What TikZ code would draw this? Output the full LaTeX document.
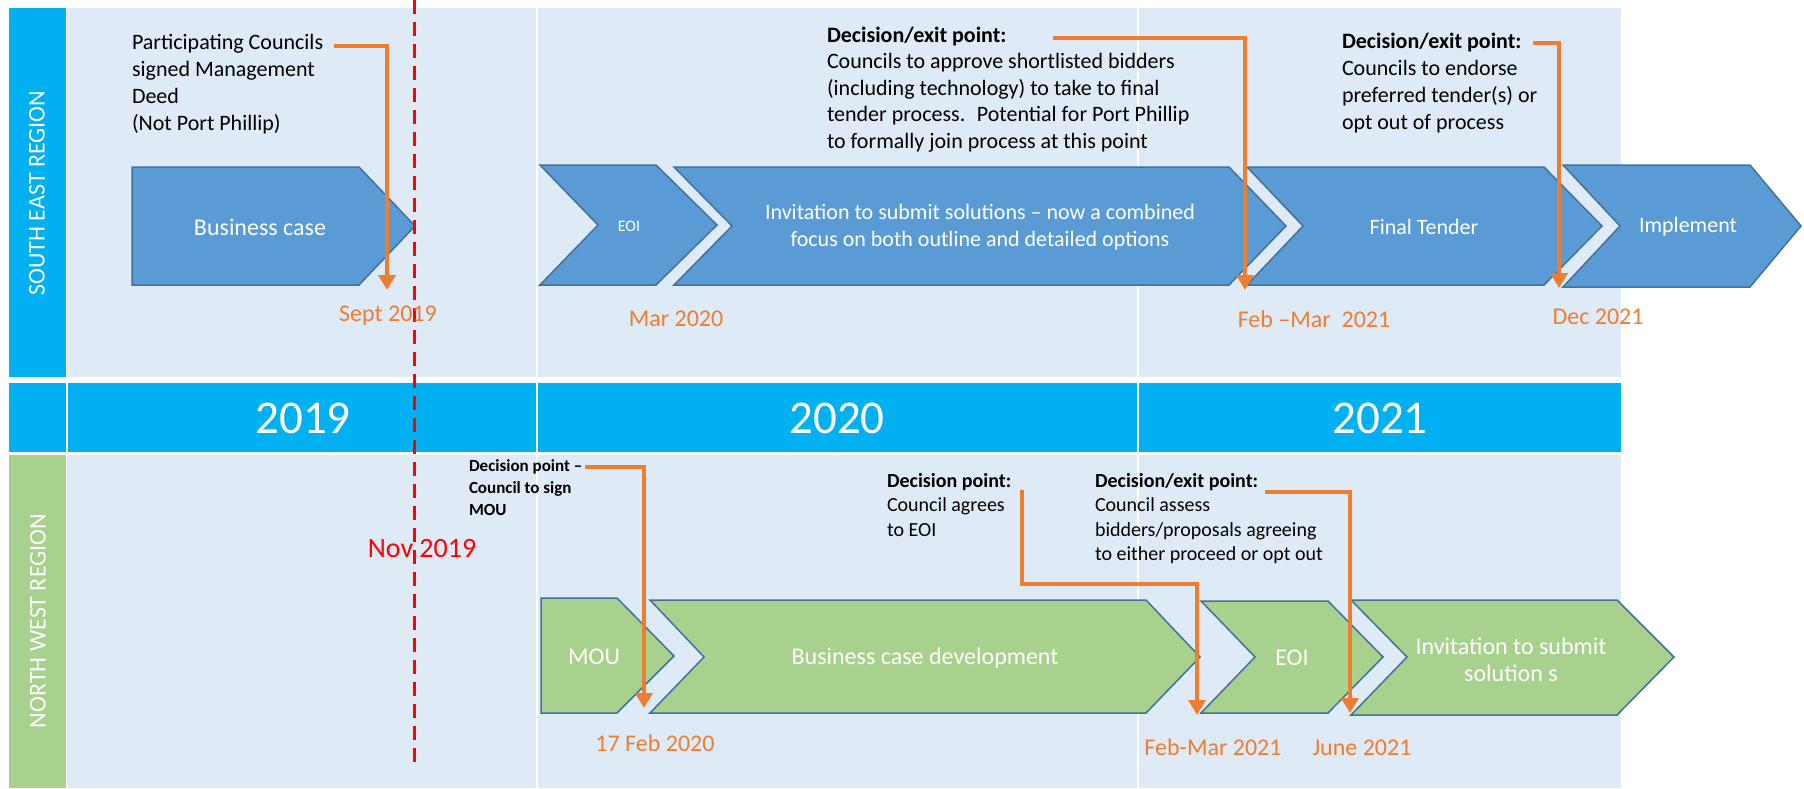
\documentclass[tikz,border=0pt]{standalone}
\usepackage{fontspec}
\setmainfont{Carlito}
\usetikzlibrary{arrows.meta}
\definecolor{bgl}{HTML}{DEEBF7}
\definecolor{cyanbar}{HTML}{00B0F0}
\definecolor{greenbar}{HTML}{A9D18E}
\definecolor{chevblue}{HTML}{5B9BD5}
\definecolor{chevedge}{HTML}{41719C}
\definecolor{orangeline}{HTML}{ED7D31}
\definecolor{reddash}{HTML}{FF0000}
\begin{document}
\begin{tikzpicture}[x=0.5pt,y=-0.5pt,
 every node/.style={inner sep=0pt,outer sep=0pt},
 chevse/.style={fill=chevblue,draw=chevedge,line width=0.75pt,line join=miter},
 chevnw/.style={fill=greenbar,draw=chevedge,line width=0.75pt,line join=miter},
 chevtext/.style={text=white,align=center,font=\fontsize{11}{13.5}\selectfont},
 note/.style={anchor=north west,align=left,text=black},
 datelbl/.style={anchor=base,text=orangeline,font=\fontsize{12}{14}\selectfont},
 yearlbl/.style={text=white,font=\fontsize{23.5}{28}\selectfont},
 regionlbl/.style={text=white,rotate=90,font=\fontsize{12}{14}\selectfont},
 orangearrow/.style={draw=orangeline,line width=2.25pt,-{Triangle[width=8.5pt,length=7.5pt]}},
 divline/.style={draw=white,line width=1pt},
 reddashed/.style={draw=reddash,line width=1.5pt,dash pattern=on 7pt off 4pt},
]
\useasboundingbox (0,0) rectangle (1804,788);
% backgrounds
\fill[cyanbar] (9,8) rectangle (66,377);
\fill[bgl] (67,8) rectangle (1621,377);
\fill[cyanbar] (9,383) rectangle (1621,452);
\fill[greenbar] (9,455) rectangle (66,788);
\fill[bgl] (67,455) rectangle (1621,788);
\draw[divline] (66.5,383) -- (66.5,452);
\foreach \xx in {537,1138} {\draw[divline] (\xx,8) -- (\xx,788);}
% region and year labels
\node[regionlbl] (se) at (37,193) {SOUTH EAST REGION};
\node[regionlbl] (nw) at (38,621) {NORTH WEST REGION};
\node[yearlbl] (y19) at (303,418) {2019};
\node[yearlbl] (y20) at (837,418) {2020};
\node[yearlbl] (y21) at (1380,418) {2021};
% south east chevrons
\draw[chevse] (132,167) -- (359,167) -- (415,226) -- (359,285) -- (132,285) -- cycle;
\draw[chevse] (540,165) -- (656,165) -- (717,225) -- (656,285) -- (540,285) -- (598,225) -- cycle;
\draw[chevse] (674,167) -- (1229,167) -- (1286,226) -- (1229,285) -- (674,285) -- (732,226) -- cycle;
\draw[chevse] (1247,167) -- (1544,167) -- (1602,226) -- (1544,285) -- (1247,285) -- (1303,226) -- cycle;
\draw[chevse] (1563,165) -- (1750,165) -- (1801,226) -- (1750,287) -- (1563,287) -- (1620,226) -- cycle;
\node[chevtext,font=\fontsize{12}{14}\selectfont] (bc) at (260,227) {Business case};
\node[chevtext,font=\fontsize{8}{10}\selectfont] (eoi1) at (629,226) {EOI};
\node[chevtext] (inv1) at (980,227) {Invitation to submit solutions – now a combined\\focus on both outline and detailed options};
\node[chevtext] (ft) at (1424,227) {Final Tender};
\node[chevtext] (imp) at (1688,227) {Implement};
% north west chevrons
\draw[chevnw] (541,598) -- (617,598) -- (674,656) -- (617,713) -- (541,713) -- cycle;
\draw[chevnw] (650,600) -- (1146,600) -- (1200,657) -- (1146,713) -- (650,713) -- (704,657) -- cycle;
\draw[chevnw] (1201,601) -- (1328,601) -- (1383,657) -- (1328,713) -- (1201,713) -- (1255,657) -- cycle;
\draw[chevnw] (1351,600) -- (1617,600) -- (1674,657) -- (1617,715) -- (1351,715) -- (1407,657) -- cycle;
\node[chevtext,font=\fontsize{12}{14}\selectfont] (mou) at (594,657) {MOU};
\node[chevtext,font=\fontsize{12}{14}\selectfont] (bcd) at (925,658) {Business case development};
\node[chevtext,font=\fontsize{12}{14}\selectfont] (eoi2) at (1292,658) {EOI};
\node[chevtext,font=\fontsize{12}{13.5}\selectfont] (inv2) at (1511,660) {Invitation to submit\\solution s};
% red dashed line
\coordinate (dtop) at (414,0);
\coordinate (dbot) at (414,763);
\draw[reddashed] (dtop) -- (dbot);
\node[anchor=base,text=reddash,font=\fontsize{14}{16}\selectfont] (nov) at (422,557) {Nov 2019};
% date labels
\node[datelbl] (d1) at (388,321) {Sept 2019};
\node[datelbl] (d2) at (676,326) {Mar 2020};
\node[datelbl] (d3) at (1314,327) {Feb –Mar~ 2021};
\node[datelbl] (d4) at (1598,324) {Dec 2021};
\node[datelbl] (d5) at (655,751) {17 Feb 2020};
\node[datelbl] (d6) at (1213,755) {Feb-Mar 2021};
\node[datelbl] (d7) at (1362,755) {June 2021};
% notes
\node[note,font=\fontsize{11}{13.5}\selectfont] (t1) at (132,34) {Participating Councils\\signed Management\\Deed\\(Not Port Phillip)};
\node[note,font=\fontsize{11}{13.25}\selectfont] (t2) at (827,27) {\textbf{Decision/exit point:}\\Councils to approve shortlisted bidders\\(including technology) to take to final\\tender process.~ Potential for Port Phillip\\to formally join process at this point};
\node[note,font=\fontsize{11}{13.5}\selectfont] (t3) at (1342,33) {\textbf{Decision/exit point:}\\Councils to endorse\\preferred tender(s) or\\opt out of process};
\node[note,font=\fontsize{8.5}{11}\selectfont\bfseries] (t4) at (469,460) {Decision point –\\Council to sign\\MOU};
\node[note,font=\fontsize{10}{12.3}\selectfont] (t5) at (887,473) {\textbf{Decision point:}\\Council agrees\\to EOI};
\node[note,font=\fontsize{10}{12.3}\selectfont] (t6) at (1095,473) {\textbf{Decision/exit point:}\\Council assess\\bidders/proposals agreeing\\to either proceed or opt out};
% orange connectors
\coordinate (a1s) at (334,46);  \coordinate (a1e) at (387,290);
\coordinate (a2s) at (1053,38); \coordinate (a2e) at (1245,290);
\coordinate (a3s) at (1533,43); \coordinate (a3e) at (1559,288);
\coordinate (a4s) at (585,467); \coordinate (a4e) at (644,708);
\coordinate (a5s) at (1022,490); \coordinate (a5m) at (1197,584); \coordinate (a5e) at (1197,715);
\coordinate (a6s) at (1265,492); \coordinate (a6e) at (1350,713);
\draw[orangearrow] (a1s) -| (a1e);
\draw[orangearrow] (a2s) -| (a2e);
\draw[orangearrow] (a3s) -| (a3e);
\draw[orangearrow] (a4s) -| (a4e);
\draw[orangearrow] (a5s) |- (a5m) -- (a5e);
\draw[orangearrow] (a6s) -| (a6e);
\end{tikzpicture}
\end{document}
